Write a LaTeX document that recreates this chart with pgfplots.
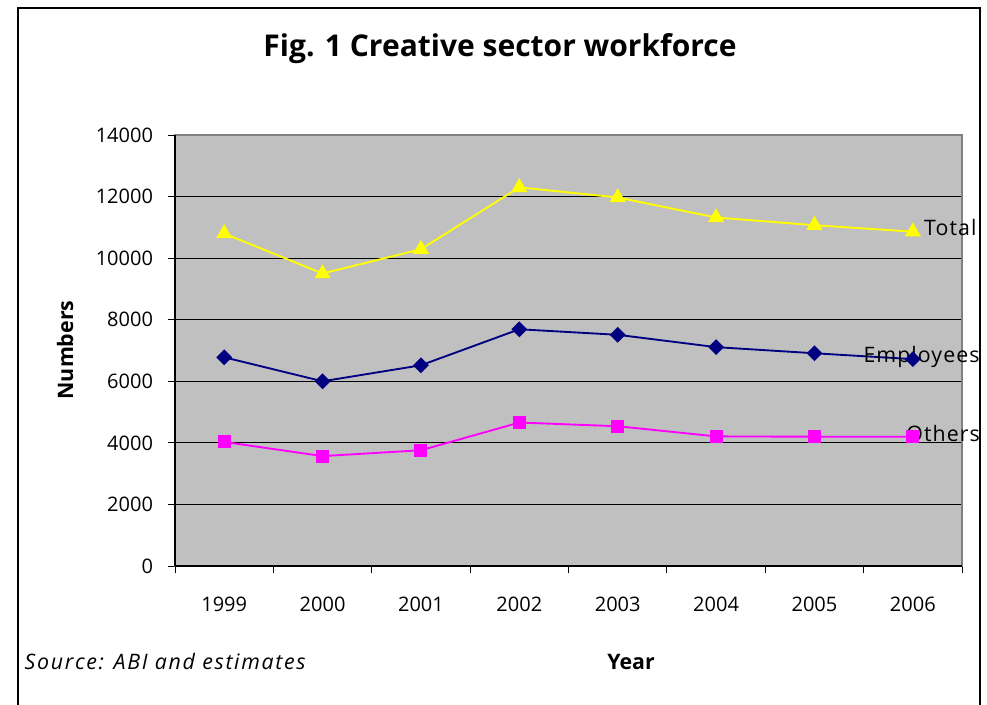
\documentclass[border=0pt]{standalone}
\usepackage{pgfplots}
\pgfplotsset{compat=1.18}
\usepackage{fontspec}
\setmainfont{Open Sans}
\newfontfamily\lblfont[LetterSpace=5]{Open Sans}
\newfontfamily\srcfont[LetterSpace=8,ItalicFont={Open Sans Italic}]{Open Sans}
\definecolor{plotbg}{RGB}{192,192,192}
\definecolor{totalc}{RGB}{255,255,0}
\definecolor{empc}{RGB}{0,0,128}
\definecolor{othc}{RGB}{255,0,255}
\begin{document}
\begin{tikzpicture}[x=0.75pt,y=0.75pt]
\useasboundingbox (0,0) rectangle (987,704);
\fill[white] (0,0) rectangle (987,704);
\draw[line width=1.5pt] (18,-10) rectangle (980,696);
\node[font=\bfseries\fontsize{22.5}{27}\selectfont] at (500,655) {Fig. 1 Creative sector workforce};
\begin{axis}[
  at={(131.25pt,103.5pt)}, anchor=south west,
  width=590.25pt, height=323.25pt, scale only axis,
  xmin=-0.5, xmax=7.5, ymin=0, ymax=14000,
  axis background/.style={fill=plotbg},
  axis line style={black!50, line width=0.8pt},
  xtick={-0.5,0.5,...,7.5},
  xticklabels={1999,2000,2001,2002,2003,2004,2005,2006},
  x tick label as interval=true,
  ytick={0,2000,...,14000},
  tick align=outside,
  tick pos=left,
  major tick length=5pt,
  tick style={black, line width=0.6pt},
  ymajorgrids=true,
  grid style={black, line width=0.6pt},
  /pgf/number format/assume math mode=true,
  scaled y ticks=false,
  yticklabel={\pgfmathprintnumber[fixed,1000 sep={}]{\tick}},
  tick label style={font=\fontsize{15}{18}\selectfont},
  xticklabel style={yshift=-15pt},
  yticklabel style={xshift=-8pt},
  clip=false,
]
\draw[black, line width=1pt] (rel axis cs:0,0) -- (rel axis cs:0,1);
\draw[black, line width=1pt] (rel axis cs:0,0) -- (rel axis cs:1,0);
\addplot[color=totalc, line width=1.4pt, mark=triangle*, mark size=5.6pt, mark options={fill=totalc, draw=totalc}]
  coordinates {(0,10800) (1,9500) (2,10290) (3,12300) (4,11970) (5,11320) (6,11070) (7,10860)};
\addplot[color=empc, line width=1.4pt, mark=square*, mark size=3.5pt, mark options={fill=empc, draw=empc, rotate=45}]
  coordinates {(0,6780) (1,6000) (2,6520) (3,7690) (4,7510) (5,7110) (6,6910) (7,6720)};
\addplot[color=othc, line width=1.4pt, mark=square*, mark size=4.2pt, mark options={fill=othc, draw=othc}]
  coordinates {(0,4030) (1,3570) (2,3760) (3,4660) (4,4540) (5,4210) (6,4200) (7,4200)};
\node[anchor=west, font=\lblfont\fontsize{16}{19}\selectfont, xshift=5pt, yshift=3pt] at (axis cs:7,10860) {Total};
\node[anchor=west, font=\lblfont\fontsize{16}{19}\selectfont, xshift=-40.5pt, yshift=1.5pt] at (axis cs:7,6720) {Employees};
\node[anchor=west, font=\lblfont\fontsize{16}{19}\selectfont, xshift=-8.3pt, yshift=2.2pt] at (axis cs:7,4200) {Others};
\end{axis}
\node[font=\bfseries\fontsize{16}{19}\selectfont, rotate=90] at (65,354) {Numbers};
\node[font=\bfseries\fontsize{16}{19}\selectfont] at (631,42) {Year};
\node[anchor=west, font=\srcfont\itshape\fontsize{16}{19}\selectfont] at (20,42) {Source: ABI and estimates};
\end{tikzpicture}
\end{document}
